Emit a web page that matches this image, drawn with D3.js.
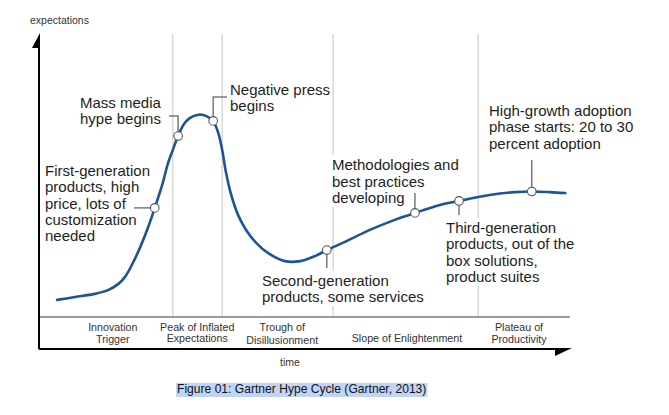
<!DOCTYPE html>
<html>
<head>
<meta charset="utf-8">
<script src="https://cdn.jsdelivr.net/npm/d3@7"></script>
<style>
  html, body { margin: 0; padding: 0; background: #fff; }
  svg { display: block; font-family: "Liberation Sans", Arial, sans-serif; }
</style>
</head>
<body>
<svg id="chart" width="669" height="415"></svg>
<script>
// ---------------- data ----------------
// hype curve: time (0-100) and expectations (0-100)
const curveTime = [3.4, 6.8, 10.5, 13.0, 14.9, 16.2, 17.5, 19.0, 20.5, 21.8, 23.2, 24.3, 25.2, 26.2, 27.3, 28.4, 29.8, 30.9, 31.8, 32.8, 33.7, 34.5, 35.2, 36.2, 37.5, 39.0, 40.9, 43.1, 46.3, 49.2, 52.0, 54.2, 57.6, 62.3, 67.0, 70.8, 75.5, 79.1, 84.9, 89.6, 92.8, 96.2, 99.1];
const curveExpect = [15.6, 16.5, 17.5, 18.7, 20.6, 22.9, 26.7, 32.1, 38.4, 44.8, 52.1, 59.0, 63.2, 67.6, 71.4, 73.3, 74.3, 74.3, 73.7, 72.4, 68.9, 63.2, 56.2, 48.9, 42.5, 37.8, 33.7, 30.5, 27.9, 27.9, 29.5, 31.4, 34.0, 37.8, 41.0, 43.2, 45.7, 47.0, 48.9, 49.8, 50.0, 49.8, 49.5];

// annotated milestones on the curve
const milestoneTime = [21.8, 26.2, 32.8, 54.2, 70.8, 79.1, 92.8];
const milestoneExpect = [44.8, 67.6, 72.4, 31.4, 43.2, 47.0, 50.0];
const milestoneText = [
  ["First-generation", "products, high", "price, lots of", "customization", "needed"],
  ["Mass media", "hype begins"],
  ["Negative press", "begins"],
  ["Second-generation", "products, some services"],
  ["Methodologies and", "best practices", "developing"],
  ["Third-generation", "products, out of the", "box solutions,", "product suites"],
  ["High-growth adoption", "phase starts: 20 to 30", "percent adoption"]
];

// phases
const phaseBoundaries = [25.2, 34.5, 55.4, 82.7];
const phaseNames = [
  ["Innovation", "Trigger"],
  ["Peak of Inflated", "Expectations"],
  ["Trough of", "Disillusionment"],
  ["Slope of Enlightenment"],
  ["Plateau of", "Productivity"]
];
const phaseLabelTime = [13.9, 29.8, 45.8, 69.3, 90.4];

const yAxisTitle = "expectations";
const xAxisTitle = "time";
const caption = "Figure 01: Gartner Hype Cycle (Gartner, 2013)";

// ---------------- layout ----------------
const svg = d3.select("#chart");
const pLeft = 39, pRight = 570, pTop = 34, pBottom = 349, pSep = 317;
const x = d3.scaleLinear().domain([0, 100]).range([pLeft, pRight]);
const y = d3.scaleLinear().domain([0, 100]).range([pBottom, pTop]);

const curveColor = "#1b5597";
const textColor = "#1e1e1e";

// phase boundary lines
svg.append("g").selectAll("line").data(phaseBoundaries).join("line")
  .attr("x1", d => x(d)).attr("x2", d => x(d))
  .attr("y1", pTop).attr("y2", pSep)
  .attr("stroke", "#cfcfcf").attr("stroke-width", 1.2);

// separator line
svg.append("line").attr("x1", pLeft).attr("x2", pRight).attr("y1", pSep).attr("y2", pSep)
  .attr("stroke", "#7a7a7a").attr("stroke-width", 1.6);

// axes
svg.append("line").attr("x1", pLeft).attr("x2", pLeft).attr("y1", pTop + 2).attr("y2", pBottom)
  .attr("stroke", "#000").attr("stroke-width", 2);
svg.append("line").attr("x1", pLeft).attr("x2", pRight - 2).attr("y1", pBottom).attr("y2", pBottom)
  .attr("stroke", "#000").attr("stroke-width", 2);
svg.append("polygon")
  .attr("points", `${pLeft + 1},${pTop - 1} ${pLeft - 7},${pTop + 14} ${pLeft + 1},${pTop + 14}`)
  .attr("fill", "#000");
svg.append("polygon")
  .attr("points", `${pRight + 2},${pBottom - 1} ${pRight - 15},${pBottom - 1} ${pRight - 15},${pBottom + 7}`)
  .attr("fill", "#000");

// axis titles
svg.append("text").attr("x", 30).attr("y", 24).attr("font-size", 10.5).attr("fill", "#333")
  .text(yAxisTitle);
svg.append("text").attr("x", 290).attr("y", 366).attr("text-anchor", "middle")
  .attr("font-size", 10.5).attr("fill", "#333").text(xAxisTitle);

// phase labels
const phaseBaseline = [[331, 343], [331, 342], [331, 344], [342], [331, 343]];
phaseNames.forEach((lines, i) => {
  const t = svg.append("text").attr("text-anchor", "middle").attr("font-size", 10.7).attr("fill", "#333");
  lines.forEach((ln, j) => {
    t.append("tspan").attr("x", x(phaseLabelTime[i])).attr("y", phaseBaseline[i][j]).text(ln);
  });
});

// annotation layout (pixel positions of text blocks)
const annoLayout = [
  { tx: 45, ty: 176, lh: 16.3, bg: false },
  { tx: 80, ty: 108, lh: 16.3, bg: false },
  { tx: 230, ty: 95, lh: 16.3, bg: false },
  { tx: 262, ty: 286, lh: 16.3, bg: true },
  { tx: 332, ty: 170, lh: 16.5, bg: true },
  { tx: 446, ty: 233, lh: 16.4, bg: true },
  { tx: 489, ty: 116, lh: 16.3, bg: false }
];

const annoG = svg.append("g");
milestoneText.forEach((lines, i) => {
  const L = annoLayout[i];
  const g = annoG.append("g");
  const bg = g.append("rect").attr("fill", "#fff");
  const t = g.append("text").attr("font-size", 15).attr("fill", textColor);
  lines.forEach((ln, j) => {
    t.append("tspan").attr("x", L.tx).attr("y", L.ty + j * L.lh).text(ln);
  });
  if (L.bg) {
    const b = t.node().getBBox();
    bg.attr("x", b.x - 2).attr("y", b.y - 1).attr("width", b.width + 4).attr("height", b.height + 2);
  } else {
    bg.remove();
  }
});

// curve
const pts = curveTime.map((t, i) => [t, curveExpect[i]]);
const line = d3.line().x(d => x(d[0])).y(d => y(d[1])).curve(d3.curveCatmullRom.alpha(0.5));
svg.append("path").attr("d", line(pts)).attr("fill", "none")
  .attr("stroke", curveColor).attr("stroke-width", 2.6).attr("stroke-linecap", "round");

// leader lines
const leaderColor = "#7a7a7a";
const mx = i => x(milestoneTime[i]);
const my = i => y(milestoneExpect[i]);
const leaders = [
  [[134, my(0)], [mx(0), my(0)]],
  [[169, 116], [mx(1), 116], [mx(1), my(1)]],
  [[mx(2), my(2)], [mx(2), 97], [227, 97]],
  [[mx(3), my(3)], [mx(3), 268]],
  [[mx(4), my(4)], [mx(4), 193]],
  [[mx(5), my(5)], [mx(5), 215]],
  [[mx(6), my(6)], [mx(6), 160]]
];
svg.append("g").selectAll("path").data(leaders).join("path")
  .attr("d", d => d3.line()(d)).attr("fill", "none")
  .attr("stroke", leaderColor).attr("stroke-width", 1.5);

// milestone markers
svg.append("g").selectAll("circle").data(milestoneTime).join("circle")
  .attr("cx", (d, i) => x(d)).attr("cy", (d, i) => y(milestoneExpect[i]))
  .attr("r", 4.3).attr("fill", "#fff").attr("stroke", "#555").attr("stroke-width", 1.1);

// caption with highlight
const cap = svg.append("g");
const capBg = cap.append("rect").attr("fill", "#bfd4f6");
const capText = cap.append("text").attr("x", 177).attr("y", 393).attr("font-size", 12.1)
  .attr("fill", "#111").text(caption);
const cb = capText.node().getBBox();
capBg.attr("x", cb.x - 1).attr("y", 383).attr("width", cb.width + 2).attr("height", 14);
</script>
</body>
</html>
